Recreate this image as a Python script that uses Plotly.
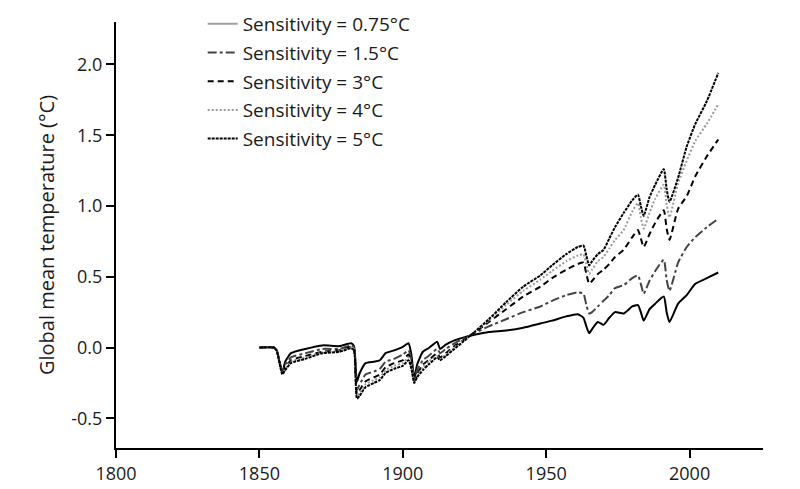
import plotly.graph_objects as go

years = [1850, 1855, 1856, 1858, 1859, 1861, 1866, 1872, 1878, 1882, 1883, 1884, 1885, 1887,
         1890, 1892, 1894, 1897, 1900, 1902, 1903, 1904, 1905, 1907, 1909, 1912, 1913, 1915,
         1918, 1921, 1925, 1930, 1936, 1942, 1948, 1952, 1957, 1961, 1963, 1964, 1965, 1966,
         1968, 1970, 1972, 1974, 1977, 1980, 1982, 1983, 1984, 1986, 1988, 1991, 1992, 1993,
         1996, 1999, 2002, 2006, 2010]

sens_075 = [0.00, 0.00, -0.02, -0.18, -0.10, -0.04, -0.01, 0.015, 0.01, 0.03, 0.01, -0.24, -0.18, -0.11,
            -0.10, -0.09, -0.04, -0.02, 0.005, 0.03, -0.05, -0.22, -0.12, -0.03, -0.005, 0.04, -0.01, 0.02,
            0.05, 0.07, 0.09, 0.11, 0.12, 0.14, 0.17, 0.19, 0.22, 0.235, 0.21, 0.15, 0.10, 0.13,
            0.18, 0.16, 0.21, 0.25, 0.24, 0.29, 0.30, 0.25, 0.19, 0.27, 0.31, 0.36, 0.25, 0.18,
            0.31, 0.37, 0.45, 0.49, 0.53]

sens_15 = [0.00, 0.00, -0.02, -0.17, -0.12, -0.07, -0.04, -0.01, -0.01, 0.015, 0.0, -0.30, -0.26, -0.19,
           -0.17, -0.15, -0.10, -0.08, -0.05, -0.02, -0.09, -0.23, -0.16, -0.09, -0.06, -0.01, -0.04, -0.01,
           0.03, 0.06, 0.10, 0.15, 0.20, 0.25, 0.29, 0.33, 0.37, 0.39, 0.38, 0.30, 0.24, 0.25,
           0.29, 0.33, 0.37, 0.42, 0.44, 0.49, 0.51, 0.45, 0.38, 0.47, 0.54, 0.62, 0.48, 0.40,
           0.60, 0.71, 0.78, 0.85, 0.91]

sens_3 = [0.00, 0.00, -0.02, -0.17, -0.14, -0.09, -0.06, -0.03, -0.02, 0.005, -0.01, -0.33, -0.30, -0.24,
          -0.21, -0.19, -0.14, -0.11, -0.09, -0.05, -0.12, -0.24, -0.19, -0.12, -0.09, -0.04, -0.07, -0.04,
          0.01, 0.05, 0.105, 0.18, 0.27, 0.36, 0.43, 0.49, 0.55, 0.59, 0.60, 0.52, 0.45, 0.47,
          0.52, 0.55, 0.59, 0.64, 0.69, 0.78, 0.83, 0.77, 0.71, 0.80, 0.88, 0.97, 0.84, 0.76,
          0.98, 1.07, 1.21, 1.35, 1.47]

sens_4 = [0.00, 0.00, -0.02, -0.18, -0.15, -0.10, -0.07, -0.035, -0.025, 0.0, -0.01, -0.35, -0.32, -0.26,
          -0.23, -0.21, -0.16, -0.13, -0.11, -0.07, -0.13, -0.24, -0.20, -0.14, -0.10, -0.06, -0.08, -0.05,
          0.0, 0.045, 0.11, 0.19, 0.30, 0.40, 0.48, 0.54, 0.61, 0.65, 0.66, 0.59, 0.52, 0.55,
          0.61, 0.64, 0.70, 0.76, 0.83, 0.96, 1.02, 0.92, 0.84, 0.95, 1.05, 1.15, 1.01, 0.92,
          1.16, 1.32, 1.46, 1.58, 1.72]

sens_5 = [0.00, 0.00, -0.02, -0.19, -0.16, -0.11, -0.08, -0.04, -0.03, -0.005, -0.02, -0.36, -0.34, -0.28,
          -0.25, -0.23, -0.18, -0.15, -0.13, -0.09, -0.15, -0.25, -0.21, -0.16, -0.12, -0.07, -0.09, -0.06,
          -0.01, 0.04, 0.11, 0.20, 0.32, 0.43, 0.51, 0.58, 0.66, 0.71, 0.72, 0.65, 0.58, 0.61,
          0.66, 0.69, 0.77, 0.85, 0.95, 1.04, 1.08, 1.00, 0.93, 1.06, 1.15, 1.26, 1.12, 1.03,
          1.20, 1.42, 1.58, 1.74, 1.94]

names = ["Sensitivity = 0.75°C", "Sensitivity = 1.5°C", "Sensitivity = 3°C",
         "Sensitivity = 4°C", "Sensitivity = 5°C"]

x_ticks = [1800, 1850, 1900, 1950, 2000]
y_ticks = [-0.5, 0.0, 0.5, 1.0, 1.5, 2.0]
y_ticktext = ["-0.5", "0.0", "0.5", "1.0", "1.5", "2.0"]

series = [sens_075, sens_15, sens_3, sens_4, sens_5]
plot_colors = ["#000000", "#444444", "#000000", "#999999", "#000000"]
legend_colors = ["#a0a0a0", "#444444", "#000000", "#999999", "#000000"]
dashes = ["solid", "dashdot", "6px,4px", "2px,2px", "3px,1px"]

fig = go.Figure()
for i, (nm, vals) in enumerate(zip(names, series)):
    fig.add_trace(go.Scatter(
        x=years, y=vals, mode="lines", name=nm, showlegend=False,
        line=dict(color=plot_colors[i], width=2, dash=dashes[i], shape="spline", smoothing=0.5),
        hoverinfo="skip"))
for i, nm in enumerate(names):
    fig.add_trace(go.Scatter(
        x=[None], y=[None], mode="lines", name=nm, legendgroup=f"g{i}",
        line=dict(color=legend_colors[i], width=2, dash=dashes[i])))

font_family = "Open Sans, Noto Sans, sans-serif"
fig.update_layout(
    width=800, height=489,
    margin=dict(l=116, r=37, t=22, b=41, autoexpand=False),
    paper_bgcolor="white", plot_bgcolor="white",
    font=dict(family=font_family, size=18, color="#1a1a1a"),
    showlegend=True,
    legend=dict(x=0.134, y=1.04, xanchor="left", yanchor="top",
                bgcolor="rgba(0,0,0,0)", font=dict(size=19, color="#1a1a1a"),
                traceorder="grouped", tracegroupgap=1),
    xaxis=dict(range=[1800, 2025.6], tickvals=x_ticks, showgrid=False, zeroline=False,
               automargin=False,
               showline=True, linecolor="black", linewidth=2,
               ticks="outside", ticklen=8, tickwidth=2, tickcolor="black"),
    yaxis=dict(range=[-0.71, 2.30], tickvals=y_ticks, ticktext=y_ticktext,
               showgrid=False, zeroline=False, automargin=False,
               showline=True, linecolor="black", linewidth=2,
               ticks="outside", ticklen=8, tickwidth=2, tickcolor="black",
               title=dict(text="Global mean temperature (°C)", standoff=11,
                          font=dict(size=20))),
)

fig.write_html("out.html", config={"displayModeBar": False},
               post_script="document.body.style.margin='0';")
